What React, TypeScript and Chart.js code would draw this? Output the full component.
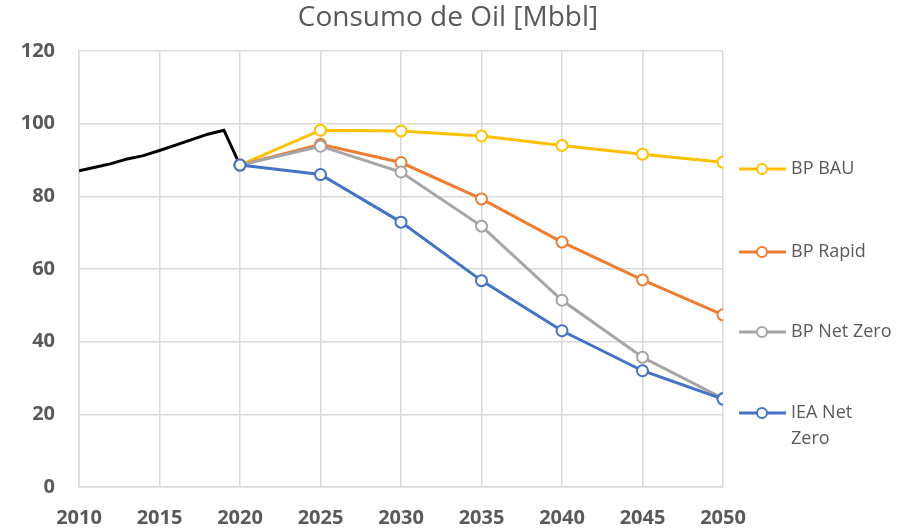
import React, { useEffect, useRef } from "react";
import { Chart, registerables } from "chart.js";

Chart.register(...registerables);

const titleText = "Consumo de Oil [Mbbl]";
const histYears = [2010, 2011, 2012, 2013, 2014, 2015, 2016, 2017, 2018, 2019, 2020];
const histValues = [87, 88, 89, 90.3, 91.2, 92.6, 94.1, 95.6, 97.1, 98.2, 88.6];
const projYears = [2020, 2025, 2030, 2035, 2040, 2045, 2050];
const bpBau = [88.6, 98.2, 98, 96.6, 94, 91.6, 89.4];
const bpRapid = [88.6, 94.3, 89.3, 79.3, 67.4, 57, 47.4];
const bpNetZero = [88.6, 93.8, 86.7, 71.8, 51.4, 35.7, 24.4];
const ieaNetZero = [88.6, 86, 72.9, 56.8, 43, 32, 24.2];
const seriesNames = ["BP BAU", "BP Rapid", "BP Net Zero", "IEA Net Zero"];
const seriesColors = ["#FFC000", "#ED7D31", "#A5A5A5", "#4472C4"];
const xTicks = [2010, 2015, 2020, 2025, 2030, 2035, 2040, 2045, 2050];

const toXY = (xs: number[], ys: number[]) => xs.map((x, i) => ({ x, y: ys[i] }));

const FONT = "'Open Sans', 'Liberation Sans', sans-serif";

const overlayPlugin = {
  id: "overlay",
  afterDraw(chart: any) {
    const ctx = chart.ctx as CanvasRenderingContext2D;
    const area = chart.chartArea;
    ctx.save();
    // title
    ctx.fillStyle = "#595959";
    ctx.font = `28px ${FONT}`;
    ctx.textAlign = "center";
    ctx.textBaseline = "middle";
    ctx.fillText(titleText, 448, 18);
    // legend
    const legendY = [169, 252, 332, 413];
    const lx0 = area.right + 16;
    seriesNames.forEach((name, i) => {
      const y = legendY[i];
      const c = seriesColors[i];
      ctx.strokeStyle = c;
      ctx.lineWidth = 3;
      ctx.beginPath();
      ctx.moveTo(lx0, y);
      ctx.lineTo(lx0 + 47, y);
      ctx.stroke();
      ctx.beginPath();
      ctx.arc(lx0 + 23, y, 5, 0, Math.PI * 2);
      ctx.fillStyle = "#ffffff";
      ctx.fill();
      ctx.lineWidth = 2;
      ctx.stroke();
      ctx.fillStyle = "#595959";
      ctx.font = `18px ${FONT}`;
      ctx.textAlign = "left";
      ctx.textBaseline = "middle";
      if (name === "IEA Net Zero") {
        ctx.fillText("IEA Net", lx0 + 52, y);
        ctx.fillText("Zero", lx0 + 52, y + 26);
      } else {
        ctx.fillText(name, lx0 + 52, y);
      }
    });
    ctx.restore();
  },
};

export default function App() {
  const ref = useRef<HTMLCanvasElement | null>(null);
  useEffect(() => {
    document.body.style.margin = "0";
    const projSets = [bpBau, bpRapid, bpNetZero, ieaNetZero].map((vals, i) => ({
      label: seriesNames[i],
      data: toXY(projYears, vals),
      borderColor: seriesColors[i],
      backgroundColor: "#ffffff",
      borderWidth: 3,
      pointRadius: 5.5,
      pointBorderWidth: 2,
      pointBackgroundColor: "#ffffff",
      pointBorderColor: seriesColors[i],
      tension: 0,
      order: 4 - i,
    }));
    const chart = new Chart(ref.current as HTMLCanvasElement, {
      type: "line",
      data: {
        datasets: [
          {
            label: "Histórico",
            data: toXY(histYears, histValues),
            borderColor: "#000000",
            borderWidth: 3,
            pointRadius: 0,
            tension: 0,
            order: 10,
          },
          ...projSets,
        ] as any,
      },
      options: {
        animation: false,
        responsive: false,
        layout: { padding: { left: 0, right: 187, top: 51, bottom: 0 } },
        plugins: {
          legend: { display: false },
          title: { display: false },
          tooltip: { enabled: false },
        },
        scales: {
          x: {
            type: "linear",
            min: 2010,
            max: 2050,
            afterBuildTicks: (s: any) => {
              s.ticks = xTicks.map((v) => ({ value: v }));
            },
            afterFit: (s: any) => {
              s.height = 44;
            },
            grid: { color: "#D9D9D9", lineWidth: 1.5, drawTicks: false },
            border: { color: "#D9D9D9", width: 1.5 },
            ticks: {
              padding: 19,
              color: "#595959",
              font: { family: FONT, size: 20, weight: "bold" },
              maxRotation: 0,
              callback: (v: any) => String(v),
            },
          },
          y: {
            min: 0,
            max: 120,
            afterFit: (s: any) => {
              s.width = 79;
            },
            grid: { color: "#D9D9D9", lineWidth: 1.5, drawTicks: false },
            border: { color: "#D9D9D9", width: 1.5 },
            ticks: {
              stepSize: 20,
              padding: 24,
              color: "#595959",
              font: { family: FONT, size: 20, weight: "bold" },
            },
          },
        },
      } as any,
      plugins: [overlayPlugin],
    });
    return () => chart.destroy();
  }, []);
  return (
    <div style={{ position: "fixed", left: 0, top: 0, width: 910, height: 531, background: "#fff" }}>
      <canvas ref={ref} width={910} height={531} style={{ width: 910, height: 531 }} />
    </div>
  );
}
